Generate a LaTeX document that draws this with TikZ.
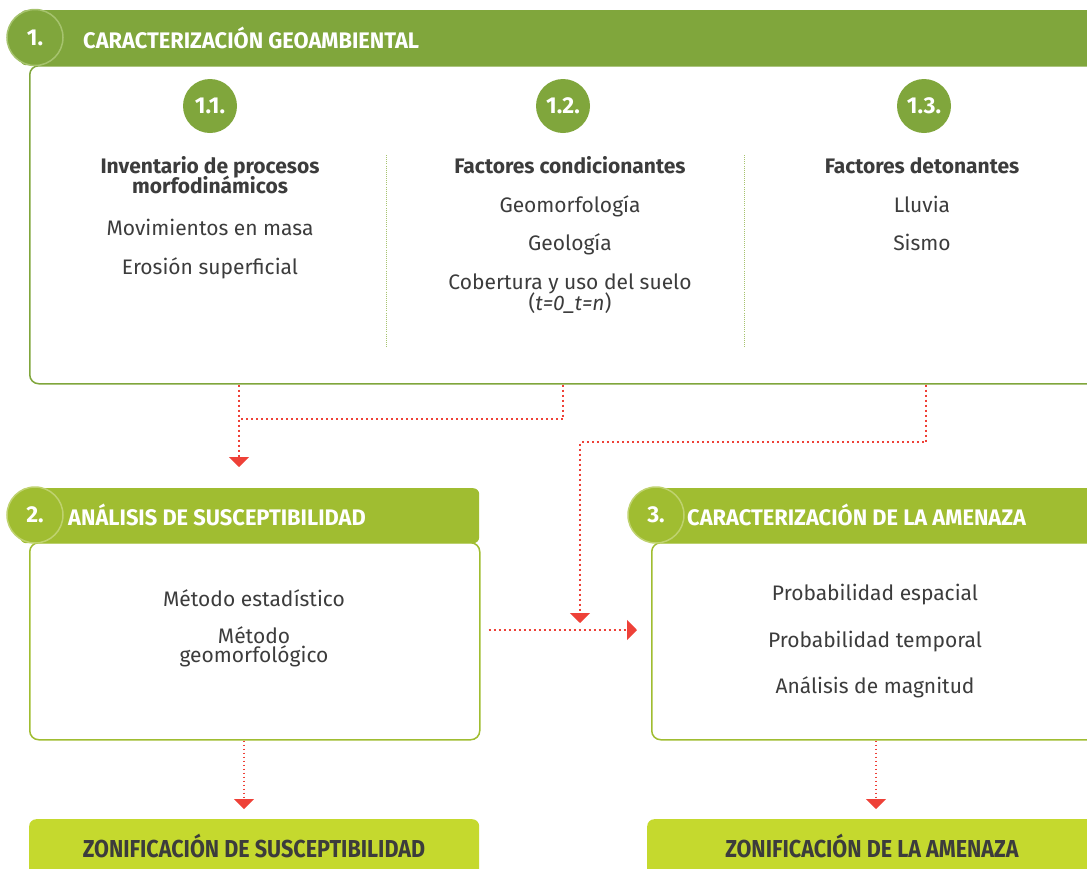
\documentclass[tikz,border=0pt]{standalone}
\usepackage{fontspec}
\setmainfont{Fira Sans}
\newfontfamily\headfont[FakeStretch=0.97]{Fira Sans}
\newfontfamily\zonefont[FakeStretch=0.88]{Fira Sans}
\usepackage{tikz}
\usetikzlibrary{arrows.meta,positioning,calc}
\definecolor{geogreen}{HTML}{80A63C}
\definecolor{georing}{HTML}{A6C36E}
\definecolor{stepgreen}{HTML}{A0BD31}
\definecolor{stepring}{HTML}{BFD26F}
\definecolor{zonelime}{HTML}{C5D92E}
\definecolor{flowred}{HTML}{EE4138}
\definecolor{ink}{HTML}{3C3C3C}

\begin{document}
\begin{tikzpicture}[x=1pt,y=-1pt,
  headbar/.style={fill=#1, rounded corners=6pt, minimum height=55pt, anchor=north west, inner sep=0pt},
  numdot/.style={circle, fill=#1, minimum size=56pt, inner sep=0pt, text=white, line width=1.5pt,
    font=\fontsize{23}{26}\selectfont\bfseries},
  subdot/.style={circle, fill=geogreen, minimum size=54pt, inner sep=0pt, text=white,
    font=\fontsize{23}{26}\selectfont\bfseries},
  headtxt/.style={anchor=west, text=white, inner sep=0pt, font=\headfont\fontsize{22.5}{26}\selectfont\bfseries},
  bodybox/.style={draw=#1, line width=1.5pt, rounded corners=9pt, fill=white, anchor=north west, inner sep=0pt},
  zonebox/.style={fill=zonelime, rounded corners=7pt, anchor=north west, inner sep=0pt, minimum height=60pt},
  zonetxt/.style={text=ink, inner sep=0pt, font=\zonefont\fontsize{24.5}{26}\selectfont\bfseries},
  tx/.style={anchor=base, text=ink, inner sep=0pt, font=\fontsize{21}{24}\selectfont},
  hd/.style={tx, font=\fontsize{21}{24}\selectfont\bfseries},
  sep/.style={draw=georing, line width=0.9pt, dash pattern=on 0.9pt off 1.2pt},
  flow/.style={draw=flowred, line width=2pt, dash pattern=on 2pt off 3pt, -{Triangle[width=20pt,length=10pt]}},
  thinflow/.style={flow, line width=1.5pt, dash pattern=on 1.5pt off 2.5pt}]
\useasboundingbox (0,0) rectangle (1087,868);
\clip (0,0) rectangle (1087,868);

% 1. Caracterizacion geoambiental
\node[bodybox=geogreen, minimum width=1080pt, minimum height=318pt] (geo) at (29,65) {};
\node[headbar=geogreen, minimum width=1090pt] (hgeo) at (20,10) {};
\node[numdot=geogreen, draw=georing] (ngeo) at (35,37.5) {1.};
\node[headtxt] (tgeo) at (83,37.5) {CARACTERIZACIÓN GEOAMBIENTAL};

\node[subdot] (c11) at (210,106) {1.1.};
\node[subdot] (c12) at (563,106) {1.2.};
\node[subdot] (c13) at (924,106) {1.3.};
\draw[sep] (386,155) -- (386,347);
\draw[sep] (744,155) -- (744,347);

% Column 1.1
\node[hd] (inv) at (210,173) {Inventario de procesos};
\node[hd] (morf) at (210,193) {morfodinámicos};
\node[tx] (mov) at (210,235) {Movimientos en masa};
\node[tx] (ero) at (210,274) {Erosión superficial};
% Column 1.2
\node[hd] (fac) at (570,173) {Factores condicionantes};
\node[tx] (geom) at (570,212) {Geomorfología};
\node[tx] (geol) at (570,250) {Geología};
\node[tx] (cob) at (570,289) {Cobertura y uso del suelo};
\node[tx] (tn) at (570,310) {(\textit{t=0\_t=n})};
% Column 1.3
\node[hd] (det) at (922,173) {Factores detonantes};
\node[tx] (llu) at (922,212) {Lluvia};
\node[tx] (sis) at (922,250) {Sismo};

% 2. Analisis de susceptibilidad
\node[bodybox=stepgreen, minimum width=450pt, minimum height=197pt] (susc) at (29,542) {};
\node[headbar=stepgreen, minimum width=459pt] (hsusc) at (20,488) {};
\node[numdot=stepgreen, draw=stepring] (nsusc) at (35,515) {2.};
\node[headtxt] (tsusc) at (68,515) {ANÁLISIS DE SUSCEPTIBILIDAD};
\node[tx] (est) at (254,606) {Método estadístico};
\node[tx] (met) at (254,643) {Método};
\node[tx] (gmf) at (254,662) {geomorfológico};

% 3. Caracterizacion de la amenaza
\node[bodybox=stepgreen, minimum width=460pt, minimum height=197pt] (amen) at (651,542) {};
\node[headbar=stepgreen, minimum width=450pt] (hamen) at (656,488) {};
\node[numdot=stepgreen, draw=stepring] (namen) at (656,515) {3.};
\node[headtxt] (tamen) at (687,515) {CARACTERIZACIÓN DE LA AMENAZA};
\node[tx] (pesp) at (875,600) {Probabilidad espacial};
\node[tx] (ptem) at (875,647) {Probabilidad temporal};
\node[tx] (mag) at (875,693) {Análisis de magnitud};

% Zonificacion
\node[zonebox, minimum width=450pt] (zsusc) at (29,819) {};
\node[zonetxt] (tzs) at (254,846) {ZONIFICACIÓN DE SUSCEPTIBILIDAD};
\node[zonebox, minimum width=460pt] (zamen) at (647,819) {};
\node[zonetxt] (tza) at (872,846) {ZONIFICACIÓN DE LA AMENAZA};

% Connectors
\coordinate (j1) at (239,419);
\coordinate (j2) at (563,419);
\coordinate (j3) at (926,442);
\coordinate (j4) at (580,442);
\coordinate (t3) at (580,623);
\coordinate (t4) at (637,630);
\coordinate (a2) at (244,0);
\coordinate (a3) at (876,0);
\draw[flow] (geo.south -| j1) -- ([yshift=21pt]hsusc.north -| j1);
\draw[flow, -] (geo.south -| j2) -- (j2) -- (j1);
\draw[flow] (geo.south -| j3) -- (j3) -- (j4) -- (t3);
\draw[flow] ([xshift=8pt]susc.east |- t4) -- (t4);
\draw[thinflow] (susc.south -| a2) -- ([yshift=10pt]zsusc.north -| a2);
\draw[thinflow] (amen.south -| a3) -- ([yshift=10pt]zamen.north -| a3);
\end{tikzpicture}
\end{document}
